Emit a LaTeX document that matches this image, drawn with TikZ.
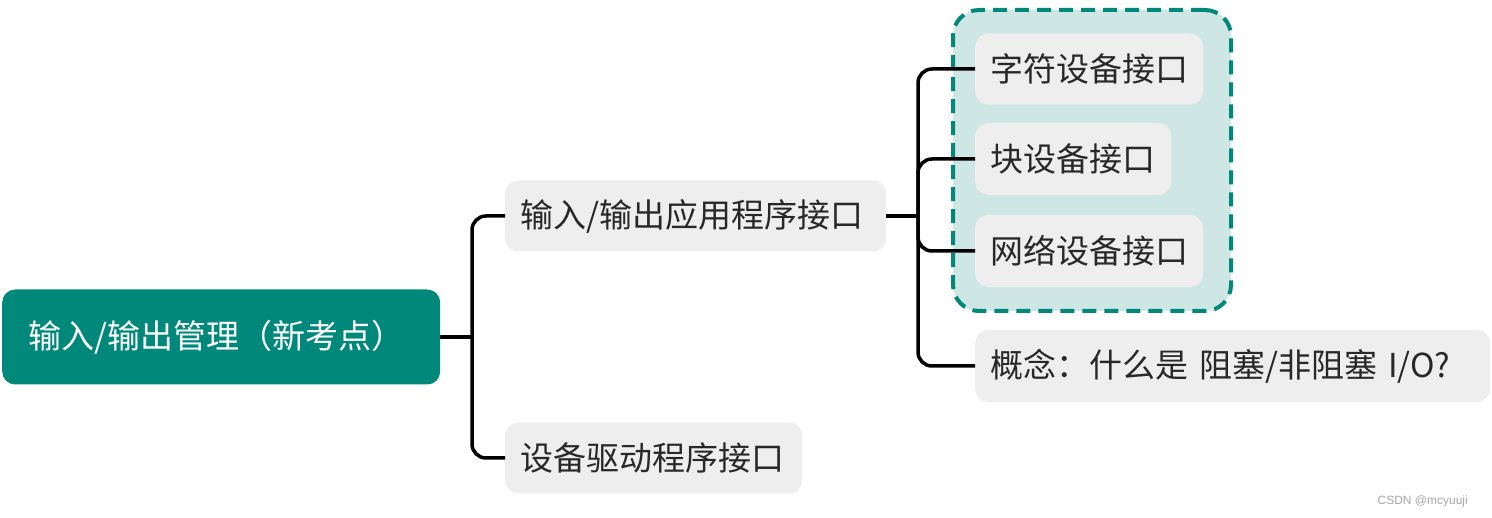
\documentclass[tikz,border=0pt]{standalone}
\usepackage{fontspec}
\setmainfont{Noto Sans CJK SC}
\newfontfamily\wmfont{Liberation Sans}
\definecolor{teal1}{RGB}{0,137,123}
\definecolor{tealbg}{RGB}{206,231,228}
\definecolor{boxgray}{RGB}{238,238,238}
\definecolor{txt}{RGB}{40,40,40}
\begin{document}
\begin{tikzpicture}[x=1pt,y=-1pt,
  leaf/.style={fill=boxgray, rounded corners=13pt, text=txt, inner ysep=0pt, inner xsep=15pt,
    font=\fontsize{33}{38}\selectfont, anchor=west, align=left},
  rootbox/.style={fill=teal1, rounded corners=13pt, text=white, inner ysep=0pt, inner xsep=26pt,
    font=\fontsize{33}{38}\selectfont, anchor=west, align=left},
  conn/.style={line width=3.5pt, black, rounded corners=14pt}]
\useasboundingbox (0,0) rectangle (1492,518);
% dashed container
\node[draw=teal1, fill=tealbg, dashed, dash pattern=on 14pt off 8pt, line width=4pt,
  rounded corners=26pt, minimum width=278pt, minimum height=301pt, anchor=north west,
  inner sep=0pt] (grp) at (951,8) {};
% nodes
\node[rootbox, text width=386pt, minimum height=95pt] (root) at (2,337) {输入/输出管理（新考点）};
\node[leaf, text width=351pt, minimum height=71pt] (api) at (505,216) {输入/输出应用程序接口};
\node[leaf, text width=267pt, minimum height=71pt] (drv) at (505,458) {设备驱动程序接口};
\node[leaf, text width=198pt, minimum height=71pt] (c1) at (975,69) {字符设备接口};
\node[leaf, text width=166pt, minimum height=72pt] (c2) at (975,159) {块设备接口};
\node[leaf, text width=198pt, minimum height=72pt] (c3) at (975,251) {网络设备接口};
\node[leaf, text width=485pt, minimum height=72pt] (c4) at (975,366) {概念：什么是 阻塞/非阻塞 I/O?};
% junctions
\coordinate (j1) at (472,337);
\coordinate (j2) at (918,216);
\draw[conn] (root.east) -- (j1);
\draw[conn] (j1) |- (api.west);
\draw[conn] (j1) |- (drv.west);
\draw[conn] (api.east) -- (j2);
\draw[conn] (j2) |- (c1.west);
\draw[conn] (j2) |- (c2.west);
\draw[conn] (j2) |- (c3.west);
\draw[conn] (j2) |- (c4.west);
% watermark
\node[anchor=east, text=gray!70, font=\wmfont\fontsize{12}{14}\selectfont, inner sep=0pt] (wm) at (1468,501) {CSDN @mcyuuji};
\end{tikzpicture}
\end{document}
